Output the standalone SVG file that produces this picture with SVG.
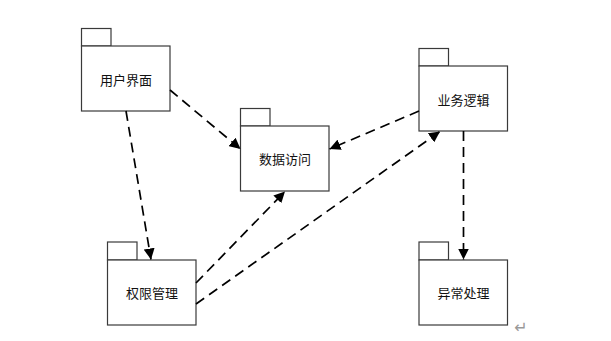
<svg xmlns="http://www.w3.org/2000/svg" width="611" height="341" viewBox="0 0 611 341">
<style>
.box{fill:#fff;stroke:#3a3a3a;stroke-width:1.2}
.lbl{font-family:"Noto Sans CJK SC","Liberation Sans",sans-serif;font-size:13px;fill:#111;text-anchor:middle;dominant-baseline:central}
.dep{fill:none;stroke:#000;stroke-width:1.7;stroke-dasharray:10,6;marker-end:url(#arr)}
</style>
<defs>
<marker id="arr" markerUnits="userSpaceOnUse" markerWidth="11" markerHeight="11" refX="11" refY="5.5" orient="auto" viewBox="0 0 11 11">
<path d="M0,0 L11,5.5 L0,11 z" fill="#000"/>
</marker>
</defs>
<rect width="611" height="341" fill="#fff"/>
<g id="ui">
<rect class="box" x="81.5" y="28.5" width="29.5" height="17.5"/>
<rect class="box" x="81.5" y="46" width="88.5" height="65"/>
<text class="lbl" x="126" y="79">用户界面</text>
</g>
<g id="data">
<rect class="box" x="240.5" y="108.5" width="29.5" height="17.5"/>
<rect class="box" x="240.5" y="126" width="88.5" height="65"/>
<text class="lbl" x="285" y="158">数据访问</text>
</g>
<g id="logic">
<rect class="box" x="419" y="48.5" width="29.5" height="17.5"/>
<rect class="box" x="419" y="66" width="88.5" height="65"/>
<text class="lbl" x="463.5" y="99">业务逻辑</text>
</g>
<g id="auth">
<rect class="box" x="107.5" y="242" width="29.5" height="18"/>
<rect class="box" x="107.5" y="260" width="88.5" height="65"/>
<text class="lbl" x="152" y="292">权限管理</text>
</g>
<g id="error">
<rect class="box" x="419" y="242" width="29.5" height="18"/>
<rect class="box" x="419" y="260" width="88.5" height="65"/>
<text class="lbl" x="463.5" y="292">异常处理</text>
</g>
<g id="connectors">
<line class="dep" x1="170" y1="90" x2="240.5" y2="149"/>
<line class="dep" x1="126" y1="111" x2="151" y2="259.5"/>
<line class="dep" x1="419" y1="111" x2="329.5" y2="149"/>
<line class="dep" x1="196" y1="283" x2="285" y2="191.5"/>
<line class="dep" x1="196" y1="304" x2="440" y2="131.5"/>
<line class="dep" x1="463.5" y1="131" x2="463.5" y2="259.5"/>
</g>
<text x="521" y="333" font-family="DejaVu Sans,sans-serif" font-size="16" fill="#999" text-anchor="middle">↵</text>
</svg>
